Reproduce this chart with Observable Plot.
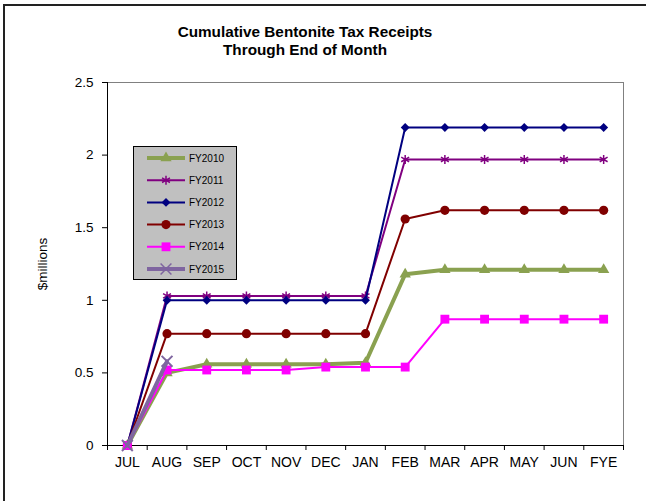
<!DOCTYPE html>
<html>
<head>
<meta charset="utf-8">
<script src="https://cdn.jsdelivr.net/npm/d3@7"></script>
<script src="https://cdn.jsdelivr.net/npm/@observablehq/plot@0.6"></script>
<style>
  html, body { margin: 0; padding: 0; background: #fff; }
  #wrap { position: relative; width: 646px; height: 501px; overflow: hidden; font-family: "Liberation Sans", Arial, sans-serif; }
  #border { position: absolute; left: 3px; top: 4px; right: -10px; bottom: -10px; border-left: 2px solid #222; border-top: 2px solid #222; }
  #title { position: absolute; left: 0; top: 23px; width: 610px; text-align: center; font-weight: bold; font-size: 15.3px; line-height: 18px; color: #000; }
  #chart { position: absolute; left: 0; top: 70px; }
  #legend { position: absolute; left: 133px; top: 146px; width: 102px; height: 132px; background: #c0c0c0; border: 1px solid #000; }
</style>
</head>
<body>
<div id="wrap">
  <div id="border"></div>
  <div id="title">Cumulative Bentonite Tax Receipts<br>Through End of Month</div>
  <div id="chart"></div>
  <div id="legend"></div>
</div>
<script>
const months = ["JUL","AUG","SEP","OCT","NOV","DEC","JAN","FEB","MAR","APR","MAY","JUN","FYE"];
const seriesNames = ["FY2010","FY2011","FY2012","FY2013","FY2014","FY2015"];
const fy2010 = [0, 0.50, 0.56, 0.56, 0.56, 0.56, 0.57, 1.18, 1.21, 1.21, 1.21, 1.21, 1.21];
const fy2011 = [0, 1.03, 1.03, 1.03, 1.03, 1.03, 1.03, 1.97, 1.97, 1.97, 1.97, 1.97, 1.97];
const fy2012 = [0, 1.00, 1.00, 1.00, 1.00, 1.00, 1.00, 2.19, 2.19, 2.19, 2.19, 2.19, 2.19];
const fy2013 = [0, 0.77, 0.77, 0.77, 0.77, 0.77, 0.77, 1.56, 1.62, 1.62, 1.62, 1.62, 1.62];
const fy2014 = [0, 0.52, 0.52, 0.52, 0.52, 0.54, 0.54, 0.54, 0.87, 0.87, 0.87, 0.87, 0.87];
const fy2015 = [0, 0.58];
const yTicks = [0, 0.5, 1, 1.5, 2, 2.5];

const styles = [
  {color: "#8aa150", width: 4, symbol: "triangle", r: 4.2, fill: true},
  {color: "#800080", width: 2, symbol: "asterisk", r: 4.3, fill: false},
  {color: "#000080", width: 2, symbol: "diamond2", r: 4.0, fill: true},
  {color: "#800000", width: 2, symbol: "circle", r: 4.6, fill: true},
  {color: "#ff00ff", width: 2, symbol: "square", r: 5.0, fill: true},
  {color: "#7f65a0", width: 4, symbol: "times", r: 5.0, fill: false}
];
const allValues = [fy2010, fy2011, fy2012, fy2013, fy2014, fy2015];
const series = allValues.map((vals, k) => vals.map((v, i) => ({i, v, s: seriesNames[k]})));

const marks = [
  Plot.ruleY([2.5], {stroke: "#808080", strokeWidth: 1}),
  Plot.ruleX([12.5], {stroke: "#808080", strokeWidth: 1}),
  Plot.ruleX([-0.5], {stroke: "#000", strokeWidth: 1}),
  Plot.ruleY([0], {stroke: "#000", strokeWidth: 1}),
  Plot.axisY({ticks: yTicks, tickFormat: d => String(d), tickSize: 5, tickPadding: 9, label: "$millions", labelAnchor: "center", labelArrow: "none", labelOffset: 70, fontSize: 13.5}),
  Plot.axisX({ticks: d3.range(13), tickFormat: i => months[i], tickSize: 0, tickPadding: 12, label: null, fontSize: 14}),
  Plot.axisX({ticks: d3.range(-0.5, 13, 1), tickFormat: () => "", tickSize: 5, label: null})
];
series.forEach((data, k) => {
  const st = styles[k];
  marks.push(Plot.line(data, {x: "i", y: "v", stroke: st.color, strokeWidth: st.width}));
  marks.push(Plot.dot(data, {
    x: "i", y: "v", symbol: () => st.symbol, r: st.r,
    fill: st.fill ? st.color : "none",
    stroke: st.fill ? "none" : st.color,
    strokeWidth: st.fill ? 0 : (k === 5 ? 2 : 1.5)
  }));
});

const chart = Plot.plot({
  width: 646,
  height: 431,
  marginTop: 12,
  marginBottom: 56,
  marginLeft: 107,
  marginRight: 23,
  style: {fontFamily: "'Liberation Sans', Arial, sans-serif", fontSize: "13px", color: "#000", background: "transparent"},
  x: {type: "linear", domain: [-0.5, 12.5], axis: null},
  y: {type: "linear", domain: [0, 2.5], axis: null},
  symbol: {type: "identity"},
  marks
});
document.getElementById("chart").appendChild(chart);

// Legend
const leg = d3.select("#legend").append("svg").attr("width", 102).attr("height", 132)
  .style("font-family", "'Liberation Sans', Arial, sans-serif").style("font-size", "10px");
const symMap = {triangle: d3.symbolTriangle, asterisk: d3.symbolAsterisk, diamond2: d3.symbolDiamond2, circle: d3.symbolCircle, square: d3.symbolSquare, times: d3.symbolTimes};
seriesNames.forEach((name, k) => {
  const st = styles[k];
  const y = 11 + k * 22.2;
  const g = leg.append("g");
  g.append("line").attr("x1", 13).attr("x2", 51).attr("y1", y).attr("y2", y)
    .attr("stroke", st.color).attr("stroke-width", st.width);
  g.append("path").attr("transform", `translate(32,${y})`)
    .attr("d", d3.symbol(symMap[st.symbol], Math.PI * st.r * st.r)())
    .attr("fill", st.fill ? st.color : "none")
    .attr("stroke", st.fill ? "none" : st.color)
    .attr("stroke-width", st.fill ? 0 : 1.5);
  g.append("text").attr("x", 55).attr("y", y).attr("dy", "0.35em").attr("fill", "#000").text(name);
});
</script>
</body>
</html>
